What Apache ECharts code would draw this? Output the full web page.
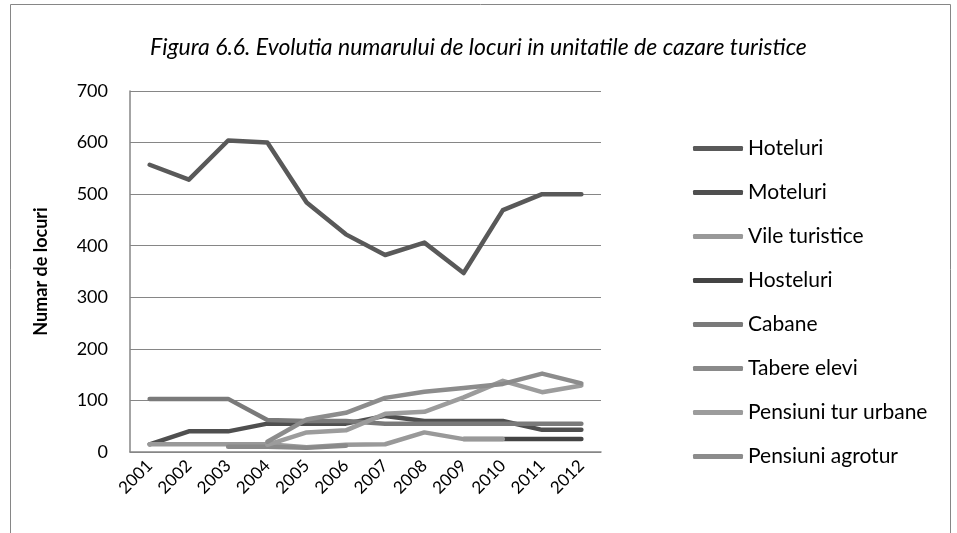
<!DOCTYPE html>
<html>
<head>
<meta charset="utf-8">
<script src="https://cdn.jsdelivr.net/npm/echarts@6/dist/echarts.min.js"></script>
<style>
  html, body { margin: 0; padding: 0; background: #fff; }
  #chart { width: 957px; height: 533px; }
</style>
</head>
<body>
<div id="chart"></div>
<script>
const years = ["2001", "2002", "2003", "2004", "2005", "2006", "2007", "2008", "2009", "2010", "2011", "2012"];

const hoteluri = [557, 528, 604, 600, 484, 422, 382, 406, 347, 469, 500, 500];
const moteluri = [15, 40, 40, 55, 55, 55, 70, 60, 60, 60, 43, 43];
const vileTuristice = [15, 15, 15, 15, 9, 14, 15, 38, 25, 25, null, null];
const hosteluri = [null, null, null, null, null, null, null, null, 25, 25, 25, 25];
const cabane = [103, 103, 103, 62, 60, 60, 55, 55, 55, 55, 55, 55];
const tabereElevi = [null, null, 10, 10, 8, 12, null, null, null, null, null, null];
const pensiuniUrbane = [null, null, null, 14, 38, 42, 74, 78, 106, 138, 116, 129];
const pensiuniAgrotur = [null, null, null, 20, 63, 76, 105, 117, 124, 132, 152, 133];

const seriesDefs = [
  { name: "Hoteluri", data: hoteluri, color: "#595959" },
  { name: "Moteluri", data: moteluri, color: "#4f4f4f" },
  { name: "Vile turistice", data: vileTuristice, color: "#999999" },
  { name: "Hosteluri", data: hosteluri, color: "#444444", z: 1 },
  { name: "Cabane", data: cabane, color: "#7a7a7a" },
  { name: "Tabere elevi", data: tabereElevi, color: "#8a8a8a" },
  { name: "Pensiuni tur urbane", data: pensiuniUrbane, color: "#9c9c9c" },
  { name: "Pensiuni agrotur", data: pensiuniAgrotur, color: "#8c8c8c" },
];

const font = "Lato, 'Open Sans', sans-serif";
const chart = echarts.init(document.getElementById("chart"));

chart.setOption({
  animation: false,
  title: {
    text: "Figura 6.6. Evolutia numarului de locuri in unitatile de cazare turistice",
    left: "center",
    top: 31,
    textStyle: { fontFamily: font, fontStyle: "italic", fontWeight: "normal", fontSize: 23, color: "#000" },
  },
  graphic: [
    {
      type: "rect",
      shape: { x: 10.5, y: 4.5, width: 940, height: 540 },
      style: { fill: "none", stroke: "#868686", lineWidth: 1 },
      silent: true,
    },
  ],
  grid: { left: 130, right: 356, top: 91, bottom: 81 },
  legend: {
    orient: "vertical",
    left: 693,
    top: 138,
    padding: 0,
    icon: "roundRect",
    itemWidth: 50,
    itemHeight: 5,
    itemGap: 23,
    textStyle: { fontFamily: font, fontSize: 21, color: "#000" },
    data: seriesDefs.map((s) => s.name),
  },
  xAxis: {
    type: "category",
    data: years,
    boundaryGap: true,
    axisLine: { lineStyle: { color: "#868686", width: 1.5 } },
    axisTick: { show: false },
    axisLabel: { rotate: 45, fontFamily: font, fontSize: 17, color: "#000", margin: 11, interval: 0 },
  },
  yAxis: {
    type: "value",
    min: 0,
    max: 700,
    interval: 100,
    name: "Numar de locuri",
    nameLocation: "middle",
    nameGap: 80,
    nameTextStyle: { fontFamily: font, fontSize: 18, fontWeight: "bold", color: "#000" },
    axisLine: { show: true, lineStyle: { color: "#868686", width: 1.5 } },
    axisTick: { show: false },
    axisLabel: { fontFamily: font, fontSize: 18, color: "#000", margin: 22 },
    splitLine: { lineStyle: { color: "#868686", width: 1 } },
  },
  series: seriesDefs.map((s) => ({
    name: s.name,
    type: "line",
    data: s.data,
    symbol: "none",
    connectNulls: false,
    z: s.z || 2,
    color: s.color,
    lineStyle: { color: s.color, width: 4.5, cap: "round", join: "round" },
  })),
});
</script>
</body>
</html>
